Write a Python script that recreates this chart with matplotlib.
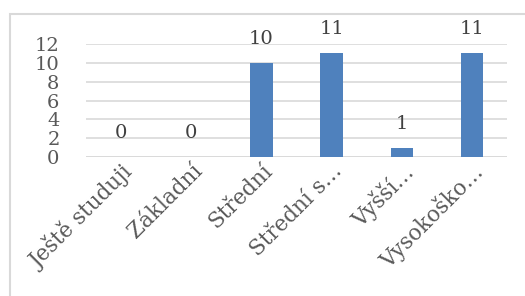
import matplotlib
matplotlib.use("Agg")
import matplotlib.pyplot as plt
from matplotlib.patches import Rectangle

categories = ["Ještě studuji", "Základní", "Střední", "Střední s…", "Vyšší…", "Vysokoško…"]
values = [0, 0, 10, 11, 1, 11]
yticks = [0, 2, 4, 6, 8, 10, 12]

W, H = 525, 296
plt.rcParams["font.family"] = ["DejaVu Serif"]
fig = plt.figure(figsize=(W/100, H/100), dpi=100)
fig.patch.set_facecolor("white")

# chart frame (extends past right/bottom of the image)
fig.add_artist(Rectangle((10/W, -0.1), 1.2, 1 - 14/H + 0.1, transform=fig.transFigure,
                         fill=False, edgecolor="#d9d9d9", linewidth=1.5))

ax = fig.add_axes([86/W, 1 - 157/H, (507-86)/W, (157-44)/H])
x = list(range(len(categories)))
ax.bar(x, values, width=0.32, color="#4f81bd", zorder=3)
ax.set_xlim(-0.5, len(categories) - 0.5)
ax.set_ylim(0, 12)
ax.set_yticks(yticks)
ax.set_yticklabels([str(t) for t in yticks], fontsize=14, color="#595959")
ax.yaxis.grid(True, color="#d9d9d9", linewidth=1.2, zorder=0)
ax.tick_params(axis="both", length=0)
ax.tick_params(axis="y", pad=19)
for s in ax.spines.values():
    s.set_visible(False)
ax.axhline(0, color="#d9d9d9", linewidth=1.2, zorder=1)

for xi, v in zip(x, values):
    ax.text(xi, v + 1.6, str(v), ha="center", va="bottom", fontsize=14, color="#404040")

ax.set_xticks(x)
ax.set_xticklabels(categories, rotation=45, ha="right", rotation_mode="anchor",
                   fontsize=15.5, color="#595959")
ax.tick_params(axis="x", pad=2)

fig.savefig("out.png", dpi=100, facecolor="white")
